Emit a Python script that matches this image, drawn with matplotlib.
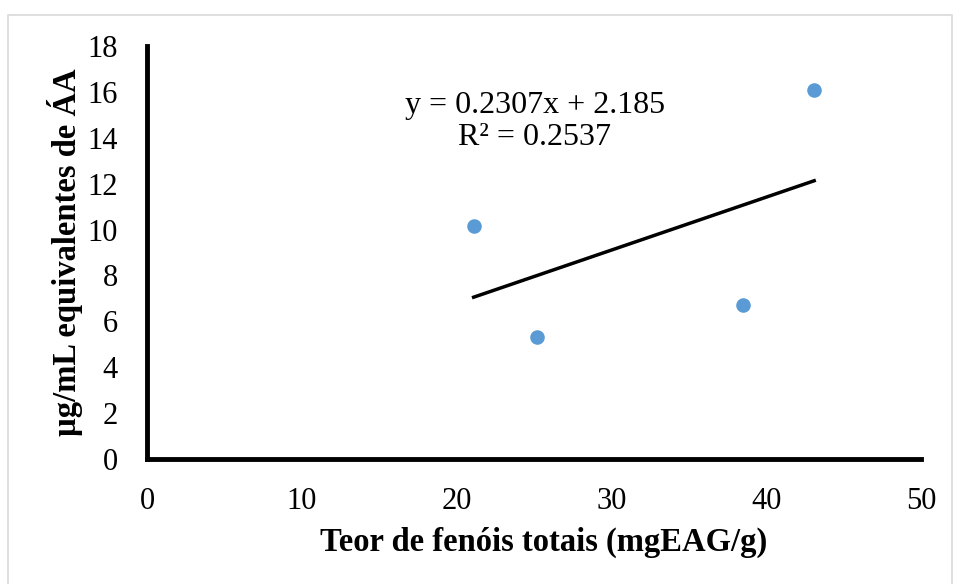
import matplotlib.pyplot as plt
import numpy as np
from matplotlib.patches import Rectangle

plt.rcParams['font.family'] = ['Liberation Serif', 'DejaVu Serif']

# Teor de fenóis totais vs. equivalentes de ácido ascórbico
fenois = [21.1, 25.2, 38.5, 43.1]
aa_equiv = [10.16, 5.32, 6.71, 16.09]

slope = 0.2307
intercept = 2.185
r2 = 0.2537

fig = plt.figure(figsize=(9.54, 5.84), dpi=100)
ax = fig.add_axes([0.1541, 0.214, 0.8113, 0.7072])

# moldura cinza clara em volta do gráfico
fig.patches.append(Rectangle((0.0084, -0.01), 0.99, 0.984, transform=fig.transFigure,
                             fill=False, edgecolor='#d9d9d9', linewidth=1.2))

ax.scatter(fenois, aa_equiv, s=110, color='#5b9bd5', zorder=3, linewidths=0)

xl = np.array([min(fenois), max(fenois)])
ax.plot(xl, slope * xl + intercept, color='black', linewidth=2.5, zorder=2)

ax.text(0.501, 0.818, f"y = {slope}x + {intercept}\nR² = {r2}", transform=ax.transAxes,
        ha='center', va='center', fontsize=23, linespacing=1.12)

ax.set_xlim(0, 50)
ax.set_ylim(0, 18)
ax.set_xticks(range(0, 51, 10))
ax.set_yticks(range(0, 19, 2))
ax.tick_params(length=0, labelsize=22)
ax.tick_params(axis='x', pad=20)
ax.tick_params(axis='y', pad=21)

for s in ['top', 'right']:
    ax.spines[s].set_visible(False)
for s in ['left', 'bottom']:
    ax.spines[s].set_linewidth(3.5)

ax.set_xlabel('Teor de fenóis totais (mgEAG/g)', fontsize=23.5, fontweight='bold', va='center')
ax.xaxis.set_label_coords(0.513, -0.203)
ax.set_ylabel('µg/mL equivalentes de ÁA', fontsize=23.5, fontweight='bold', va='center')
ax.yaxis.set_label_coords(-0.106, 0.501)

plt.savefig('out.png', dpi=100)
